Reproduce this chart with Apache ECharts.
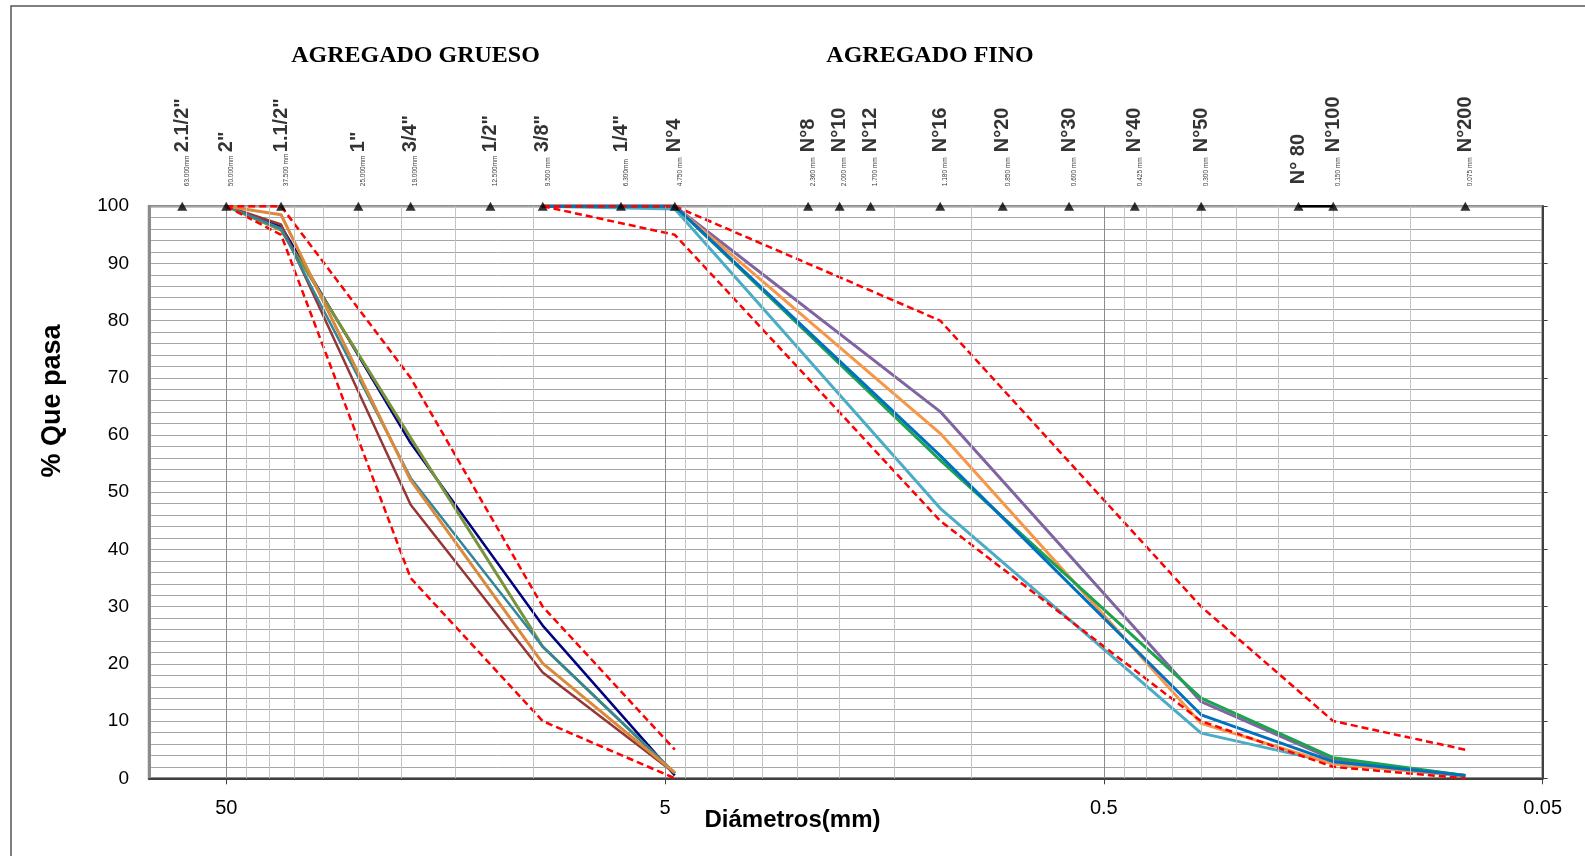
<!DOCTYPE html>
<html><head><meta charset="utf-8">
<script src="https://cdn.jsdelivr.net/npm/echarts@6/dist/echarts.min.js"></script>
<style>html,body{margin:0;padding:0;background:#fff}#c{width:1585px;height:856px}</style>
</head><body><div id="c"></div>
<script>
// ---------- DATA ----------
const sieveNames = ['2.1/2"', '2"', '1.1/2"', '1"', '3/4"', '1/2"', '3/8"', '1/4"', 'N°4', 'N°8', 'N°10', 'N°12', 'N°16', 'N°20', 'N°30', 'N°40', 'N°50', 'N° 80', 'N°100', 'N°200'];
const sieveMm = [63, 50, 37.5, 25, 19, 12.5, 9.5, 6.3, 4.75, 2.36, 2.0, 1.7, 1.18, 0.85, 0.6, 0.425, 0.3, 0.18, 0.15, 0.075];
const sieveMmText = ['63.000mm', '50.000mm', '37.500 mm', '25.000mm', '19.000mm', '12.500mm', '9.500 mm', '6.300mm', '4.750 mm', '2.360 mm', '2.000 mm', '1.700 mm', '1.180 mm', '0.850 mm', '0.600 mm', '0.425 mm', '0.300 mm', '', '0.150 mm', '0.075 mm'];
const bracketMm = [0.18, 0.15];

const xTickValues = [50, 5, 0.5, 0.05];
const majorGridX = [50, 5, 0.5];
const minorGridX = [45, 40, 35, 30, 25, 20, 15, 10, 4.5, 4, 3.5, 3, 2.5, 2, 1.5, 1, 0.45, 0.4, 0.35, 0.3, 0.25, 0.2, 0.15, 0.1];

// Coarse aggregate (agregado grueso)
const coarseMm = [50, 37.5, 19, 9.5, 4.75];
const coarseNavy = [100, 96.5, 58.6, 26.7, 0.5];
const coarseGreen = [100, 95.8, 59.5, 23.0, 0.9];
const coarseBrown = [100, 96.8, 47.8, 18.5, 0.9];
const coarseTeal = [100, 96.1, 52.5, 23.0, 0.9];
const coarseOrange = [100, 98.5, 52.1, 20.1, 1.0];
const coarseUpper = [100, 100, 70, 30, 5];
const coarseLower = [100, 95, 35, 10, 0];

// Fine aggregate (agregado fino)
const fineMm = [9.5, 4.75, 1.18, 0.3, 0.15, 0.075];
const finePurple = [100, 100, 64.1, 13.4, 3.3, 0.5];
const fineOrange = [100, 100, 60.3, 9.6, 2.5, 0.4];
const fineGreen = [100, 100, 55.6, 14.0, 3.6, 0.5];
const fineBlue = [100, 100, 56.4, 11.1, 2.9, 0.5];
const fineCyan = [100, 99.5, 47.2, 7.9, 2.7, 0.4];
const fineUpper = [100, 100, 80, 30, 10, 5];
const fineLower = [100, 95, 45, 10, 2, 0];

// ---------- CHART ----------
const SANS = '"Liberation Sans", Arial, sans-serif';
const SERIF = '"Liberation Serif", "Times New Roman", serif';
const chart = echarts.init(document.getElementById('c'));

function pairs(xs, ys) { return xs.map((x, i) => [x, ys[i]]); }
function curve(name, xs, ys, color, width, dashed, z) {
  return {
    type: 'line', name, data: pairs(xs, ys), symbol: 'none', silent: true, clip: false,
    lineStyle: { color, width, type: dashed ? [7, 4] : 'solid' }, z: z
  };
}
function gridLines(values, color) {
  return {
    type: 'line', data: [], silent: true, z: 1,
    markLine: {
      silent: true, symbol: ['none', 'none'], animation: false,
      label: { show: false },
      lineStyle: { color, width: 1, type: 'solid' },
      data: values.map(v => ({ xAxis: v }))
    }
  };
}
const lowLabel = { 'N° 80': 32 };

const series = [
  gridLines(minorGridX, '#c4c4c4'),
  gridLines(majorGridX, '#8c8c8c'),
  curve('G1', coarseMm, coarseNavy, '#000080', 2.5, false, 3),
  curve('G2', coarseMm, coarseGreen, '#77933C', 3, false, 3),
  curve('G3', coarseMm, coarseBrown, '#953735', 2.5, false, 3),
  curve('G4', coarseMm, coarseTeal, '#31859C', 2.5, false, 3),
  curve('G5', coarseMm, coarseOrange, '#DB8A3C', 3, false, 3),
  curve('F1', fineMm, fineCyan, '#4BACC6', 3, false, 3),
  curve('F2', fineMm, finePurple, '#8064A2', 3, false, 3),
  curve('F3', fineMm, fineOrange, '#F79646', 3, false, 3),
  curve('F4', fineMm, fineGreen, '#1BA34F', 3, false, 3),
  curve('F5', fineMm, fineBlue, '#0070C0', 3, false, 3),
  curve('GS', coarseMm, coarseUpper, '#FF0000', 2.5, true, 4),
  curve('GI', coarseMm, coarseLower, '#FF0000', 2.5, true, 4),
  curve('FS', fineMm, fineUpper, '#FF0000', 2.5, true, 4),
  curve('FI', fineMm, fineLower, '#FF0000', 2.5, true, 4),
  {
    type: 'line', data: bracketMm.map(x => [x, 100]), symbol: 'none', silent: true, clip: false,
    lineStyle: { color: '#000', width: 2.5 }, z: 5
  },
  {
    type: 'scatter', clip: false, silent: true, z: 6,
    symbol: 'triangle', symbolSize: [10, 9],
    itemStyle: { color: '#000' },
    data: sieveMm.map((x, i) => ({
      value: [x, 100], name: sieveNames[i],
      label: { position: [5, -(54 - 4.5) + (lowLabel[sieveNames[i]] || 0)] }
    })),
    label: {
      show: true, formatter: p => p.name, rotate: 90, align: 'left', verticalAlign: 'middle',
      fontFamily: SANS, fontWeight: 'bold', fontSize: 20, color: '#000'
    }
  },
  {
    type: 'scatter', clip: false, silent: true, z: 6,
    symbol: 'circle', symbolSize: 0, itemStyle: { color: 'rgba(0,0,0,0)' },
    data: sieveMm.map((x, i) => ({ value: [x, 100], name: sieveMmText[i] })),
    label: {
      show: true, formatter: p => p.name, rotate: 90, align: 'left', verticalAlign: 'middle',
      position: [5, -20], fontFamily: SANS, fontSize: 6.5, color: '#000'
    }
  }
];

const option = {
  backgroundColor: '#fff',
  animation: false,
  grid: { left: 149, right: 42.4, top: 206.2, bottom: 77.7, show: true, borderColor: '#8c8c8c', borderWidth: 2.5 },
  xAxis: [{
    type: 'log', logBase: 10, inverse: true, min: 0.05, max: 75,
    axisLine: { show: true, lineStyle: { color: '#404040', width: 2 } },
    axisTick: { show: true, customValues: xTickValues, length: 6, lineStyle: { color: '#404040', width: 1 } },
    axisLabel: { show: true, customValues: xTickValues, formatter: v => String(+(+v).toPrecision(6)),
      fontFamily: SANS, fontSize: 20, color: '#000', margin: 20 },
    splitLine: { show: false }, minorTick: { show: false }, minorSplitLine: { show: false }
  }],
  yAxis: [{
    type: 'value', min: 0, max: 100, interval: 10, position: 'left',
    axisLine: { show: true, lineStyle: { color: '#8c8c8c', width: 3 } },
    axisTick: { show: false },
    axisLabel: { fontFamily: SANS, fontSize: 19, color: '#000', margin: 20 },
    splitLine: { show: true, lineStyle: { color: '#a6a6a6', width: 1 } },
    minorTick: { show: false, splitNumber: 5 },
    minorSplitLine: { show: true, lineStyle: { color: '#a6a6a6', width: 1 } }
  }, {
    type: 'value', min: 0, max: 100, interval: 10, position: 'right',
    axisLine: { show: true, lineStyle: { color: '#404040', width: 2 } },
    axisTick: { show: true, length: 5, lineStyle: { color: '#404040' } },
    axisLabel: { show: false }, splitLine: { show: false }
  }],
  graphic: [
    { type: 'rect', shape: { x: 11, y: 6, width: 1700, height: 1000 }, style: { fill: 'none', stroke: '#555', lineWidth: 1.5 }, silent: true, z: -10 },
    { type: 'text', x: 415.5, y: 55.6, style: { text: 'AGREGADO GRUESO', font: 'bold 24px ' + SERIF, fill: '#000', align: 'center', verticalAlign: 'middle', textAlign: 'center', textVerticalAlign: 'middle' } },
    { type: 'text', x: 930, y: 55.6, style: { text: 'AGREGADO FINO', font: 'bold 24px ' + SERIF, fill: '#000', align: 'center', verticalAlign: 'middle', textAlign: 'center', textVerticalAlign: 'middle' } },
    { type: 'text', x: 53, y: 401, rotation: Math.PI / 2, style: { text: '% Que pasa', font: 'bold 27px ' + SANS, fill: '#000', align: 'center', verticalAlign: 'middle', textAlign: 'center', textVerticalAlign: 'middle' } },
    { type: 'text', x: 792.5, y: 820, style: { text: 'Diámetros(mm)', font: 'bold 24px ' + SANS, fill: '#000', align: 'center', verticalAlign: 'middle', textAlign: 'center', textVerticalAlign: 'middle' } }
  ],
  series
};
chart.setOption(option);
</script>
</body></html>
